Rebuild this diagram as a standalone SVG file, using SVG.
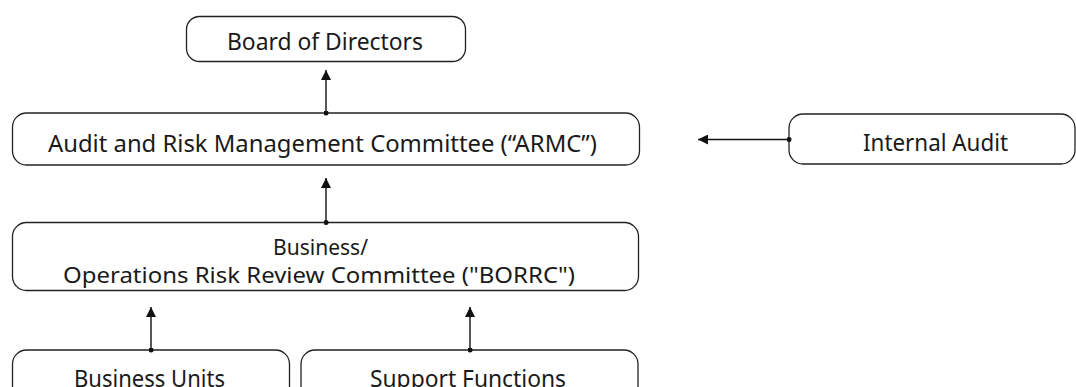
<svg xmlns="http://www.w3.org/2000/svg" width="1076" height="387" viewBox="0 0 1076 387">
<defs>
<marker id="ah" viewBox="0 0 10 10" refX="10" refY="5" markerWidth="10" markerHeight="10" markerUnits="userSpaceOnUse" orient="auto">
<path d="M0,0 L10,5 L0,10 z" fill="#111"/>
</marker>
<marker id="dot" viewBox="0 0 6 6" refX="3" refY="3" markerWidth="5" markerHeight="5" markerUnits="userSpaceOnUse">
<circle cx="3" cy="3" r="3" fill="#111"/>
</marker>
</defs>
<style>
.box{fill:#fff;stroke:#222;stroke-width:1.3}
.t{font-family:"Noto Sans","Liberation Sans",sans-serif;font-size:23px;fill:#1a1a1a;text-anchor:middle}
.m{font-size:22px}
.b{font-size:24px}
.c{stroke:#111;stroke-width:1.4;fill:none;marker-start:url(#dot);marker-end:url(#ah)}
</style>
<rect width="1076" height="387" fill="#fff"/>
<g id="board">
<rect class="box" x="186.5" y="16.5" width="279" height="45" rx="13"/>
<text class="t" x="325" y="50" textLength="196" lengthAdjust="spacingAndGlyphs">Board of Directors</text>
</g>
<g id="armc">
<rect class="box" x="12.5" y="113" width="627" height="52" rx="14"/>
<text class="t" x="322.5" y="151.5" textLength="549" lengthAdjust="spacingAndGlyphs">Audit and Risk Management Committee (“ARMC”)</text>
</g>
<g id="internal-audit">
<rect class="box" x="789" y="114" width="286" height="50" rx="14"/>
<text class="t" x="935.5" y="150.5" textLength="145" lengthAdjust="spacingAndGlyphs">Internal Audit</text>
</g>
<g id="borrc">
<rect class="box" x="12.5" y="222.5" width="626" height="68" rx="14"/>
<text class="t m" x="320.5" y="254.5" textLength="95" lengthAdjust="spacingAndGlyphs">Business/</text>
<text class="t m" x="319" y="283" textLength="512" lengthAdjust="spacingAndGlyphs">Operations Risk Review Committee ("BORRC")</text>
</g>
<g id="business-units">
<rect class="box" x="12.5" y="350" width="277" height="60" rx="14"/>
<text class="t b" x="149.5" y="386.5" textLength="151" lengthAdjust="spacingAndGlyphs">Business Units</text>
</g>
<g id="support-functions">
<rect class="box" x="301" y="350" width="337" height="60" rx="14"/>
<text class="t b" x="468" y="386.5" textLength="196" lengthAdjust="spacingAndGlyphs">Support Functions</text>
</g>
<g id="connectors">
<line class="c" x1="326" y1="113" x2="326" y2="70"/>
<line class="c" x1="326" y1="222.5" x2="326" y2="178"/>
<line class="c" x1="789" y1="139.5" x2="698" y2="139.5"/>
<line class="c" x1="151" y1="350" x2="151" y2="307"/>
<line class="c" x1="470" y1="350" x2="470" y2="307"/>
</g>
</svg>
